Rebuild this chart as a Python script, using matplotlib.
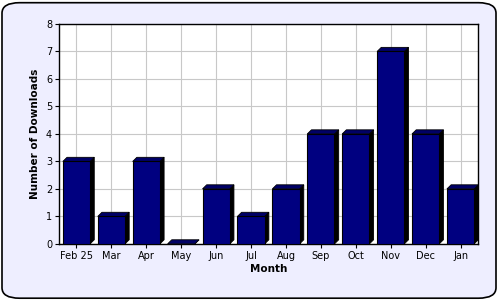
import matplotlib
matplotlib.use('Agg')
import matplotlib.pyplot as plt
from matplotlib.patches import FancyBboxPatch, Polygon
import numpy as np

months = ['Feb 25', 'Mar', 'Apr', 'May', 'Jun', 'Jul', 'Aug', 'Sep', 'Oct', 'Nov', 'Dec', 'Jan']
downloads = [3, 1, 3, 0, 2, 1, 2, 4, 4, 7, 4, 2]
y_ticks = [0, 1, 2, 3, 4, 5, 6, 7, 8]

fig = plt.figure(figsize=(5, 3), dpi=100)
fig.patch.set_facecolor('white')
border = FancyBboxPatch((0.004, 0.006), 0.988, 0.985, boxstyle='round,pad=0,rounding_size=0.035',
                        transform=fig.transFigure, facecolor='#eeeeff', edgecolor='black',
                        linewidth=1.2, zorder=-10)
fig.patches.append(border)

ax = fig.add_axes([0.118, 0.187, 0.838, 0.733])
ax.set_zorder(1)
ax.set_facecolor('white')

x = np.arange(len(months))
width = 0.78
dx = 0.12
dy = 0.15

for xi, v in zip(x, downloads):
    left = xi - width / 2
    right = xi + width / 2
    # side face
    ax.add_patch(Polygon([(right, 0), (right + dx, dy), (right + dx, v + dy), (right, v)],
                         closed=True, facecolor='black', edgecolor='black', lw=0.6, zorder=3))
    # top face
    ax.add_patch(Polygon([(left, v), (left + dx, v + dy), (right + dx, v + dy), (right, v)],
                         closed=True, facecolor='#000066', edgecolor='black', lw=0.6, zorder=3))
ax.bar(x, downloads, width=width, color='#000080', edgecolor='black', linewidth=0.8, zorder=4)

ax.set_xlim(-0.5, len(months) - 0.5)
ax.set_ylim(0, 8)
ax.set_yticks(y_ticks)
ax.set_xticks(x)
ax.set_xticklabels(months)
ax.tick_params(axis='both', labelsize=7, length=3, width=0.8, pad=2)
ax.grid(True, color='#c8c8c8', linewidth=0.8, zorder=0)
ax.set_axisbelow(True)
for s in ax.spines.values():
    s.set_linewidth(1.0)
    s.set_color('black')

ax.set_xlabel('Month', fontsize=7.5, fontweight='bold', labelpad=2)
ax.set_ylabel('Number of Downloads', fontsize=7.5, fontweight='bold', labelpad=4)

fig.savefig('out.png', dpi=100, facecolor=fig.get_facecolor())
